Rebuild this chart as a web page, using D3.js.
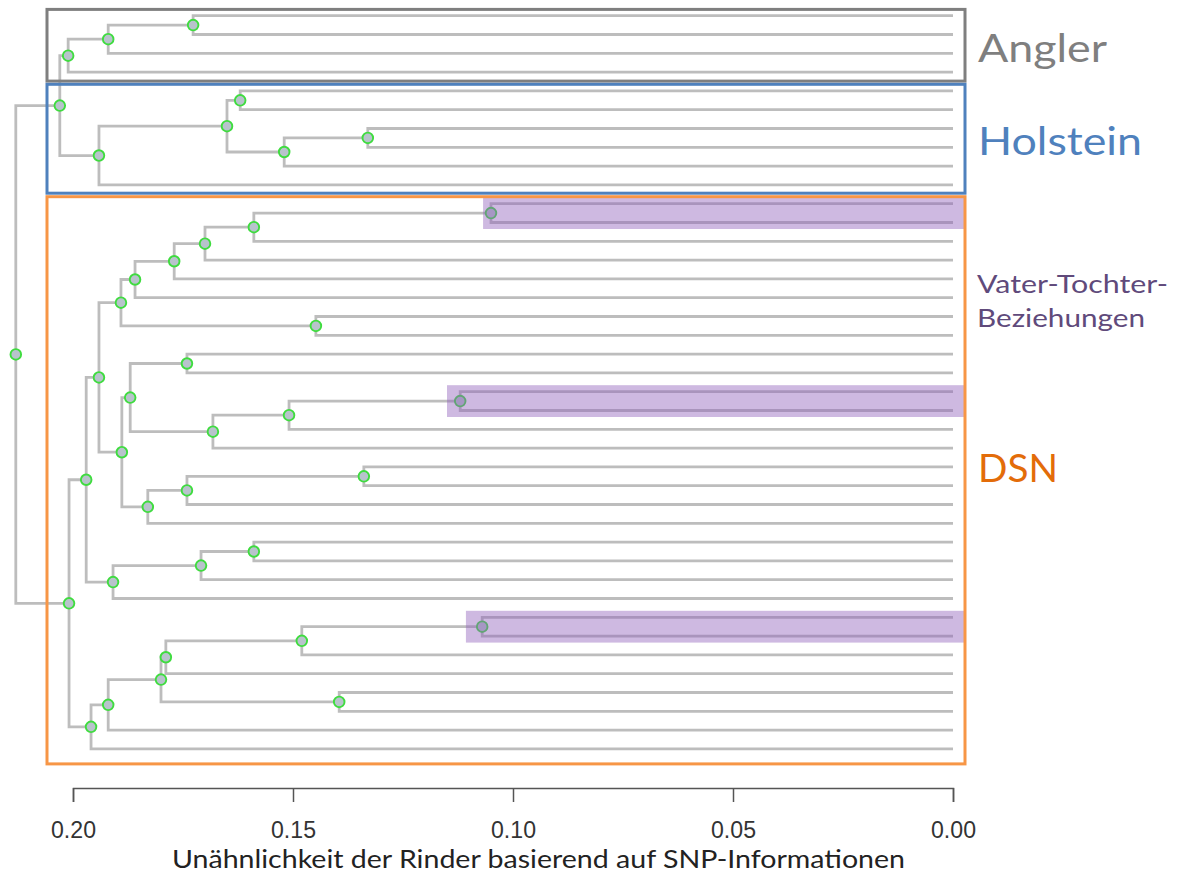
<!DOCTYPE html>
<html>
<head>
<meta charset="utf-8">
<script src="https://cdn.jsdelivr.net/npm/d3@7"></script>
<style>
  html, body { margin: 0; padding: 0; background: #ffffff; }
  svg { display: block; }
</style>
</head>
<body>
<svg id="chart" width="1178" height="876"></svg>
<script>
// ---------------- DATA ----------------
// Leaves in display order (top to bottom)
const leafIds = d3.range(1, 41).map(i => "R" + i);

// Agglomerative merges (hclust convention: negative = leaf number, positive = earlier merge)
const mergeLeft  = [-1, 1, 2, -5, -7, 5, 4, 7, 3,
                    -11, 10, 11, 12, 13, -17, 14, -19, -21, 18, 19, 17, -25, 22, 23, 21, 16,
                    -29, 27, 28, 26, -33, 31, 32, -37, 33, 35, 36, 30, 9];
const mergeRight = [-2, -3, -4, -6, -8, -9, 6, -10, 8,
                    -12, -13, -14, -15, -16, -18, 15, -20, -22, -23, -24, 20, -26, -27, -28, 24, 25,
                    -30, -31, -32, 29, -34, -35, -36, -38, 34, -39, -40, 37, 38];
const mergeHeight = [0.1727, 0.1920, 0.2011, 0.1620, 0.1330, 0.1520, 0.1650, 0.1941, 0.2030,
                     0.1050, 0.1589, 0.1700, 0.1770, 0.1859, 0.1448, 0.1891, 0.1741, 0.1120, 0.1509,
                     0.1682, 0.1870, 0.1339, 0.1741, 0.1830, 0.1889, 0.1941,
                     0.1589, 0.1709, 0.1909, 0.1970, 0.1070, 0.1480, 0.1789, 0.1395, 0.1800,
                     0.1920, 0.1959, 0.2009, 0.2130];

// Groups (leaf ranges, 1-based)
const groupNames = ["Angler", "Holstein", "DSN"];
const groupFirstLeaf = [1, 5, 11];
const groupLastLeaf = [4, 10, 40];

// Father-daughter pairs highlighted
const pairFirstLeaf = [11, 21, 33];
const pairLastLeaf = [12, 22, 34];
const pairLeftHeight = [0.1068, 0.1150, 0.1107];

const tickValues = [0.20, 0.15, 0.10, 0.05, 0.00];
const axisTitle = "Unähnlichkeit der Rinder basierend auf SNP-Informationen";
const pairLabel = ["Vater-Tochter-", "Beziehungen"];

// ---------------- BUILD TREE ----------------
const merges = mergeHeight.map((h, i) => ({ id: "M" + (i + 1), height: h }));
function resolve(k) {
  return k < 0 ? { id: leafIds[-k - 1], height: 0 } : merges[k - 1];
}
merges.forEach((m, i) => { m.children = [resolve(mergeLeft[i]), resolve(mergeRight[i])]; });
const root = d3.hierarchy(merges[merges.length - 1]);

// ---------------- SCALES ----------------
const x = d3.scaleLinear().domain([0.20, 0.00]).range([73, 953]);
const y = d3.scalePoint().domain(root.leaves().map(d => d.data.id)).range([15.7, 748.9]);

root.eachAfter(n => {
  if (!n.children) n.py = y(n.data.id);
  else n.py = d3.mean(n.children, c => c.py);
  n.px = x(n.data.height);
});

const svg = d3.select("#chart");
const boxLeft = 47, boxRight = 965;

// ---------------- TREE ----------------
const gTree = svg.append("g");
const lineColor = "#bdbdbd";
const internal = root.descendants().filter(n => n.children);

gTree.selectAll("path.link")
  .data(internal)
  .join("path")
  .attr("fill", "none")
  .attr("stroke", lineColor)
  .attr("stroke-width", 2.8)
  .attr("d", n => {
    const [a, b] = n.children;
    return `M${a.px},${a.py}H${n.px}V${b.py}H${b.px}`;
  });

gTree.selectAll("circle")
  .data(internal)
  .join("circle")
  .attr("cx", n => n.px)
  .attr("cy", n => n.py)
  .attr("r", 5.3)
  .attr("fill", "#b8c3cc")
  .attr("stroke", "#3fdc3f")
  .attr("stroke-width", 1.9);

// ---------------- HIGHLIGHT BANDS ----------------
svg.append("g").selectAll("rect")
  .data(pairFirstLeaf.map((f, i) => ({ f, l: pairLastLeaf[i], h: pairLeftHeight[i] })))
  .join("rect")
  .attr("x", d => x(d.h))
  .attr("y", d => y(leafIds[d.f - 1]) - 6.5)
  .attr("width", d => boxRight - x(d.h))
  .attr("height", d => y(leafIds[d.l - 1]) - y(leafIds[d.f - 1]) + 13)
  .attr("fill", "#8f5fbb")
  .attr("fill-opacity", 0.44);

// ---------------- GROUP BOXES ----------------
const groupStroke = ["#7f7f7f", "#4f81bd", "#f79646"];
const groupText = ["#7f7f7f", "#4f81bd", "#e36c09"];
const boxPadTop = [6.3, 6.6, 7.0];
const boxPadBottom = [9.0, 8.3, 15.0];
svg.append("g").selectAll("rect")
  .data(groupNames.map((g, i) => i))
  .join("rect")
  .attr("x", boxLeft)
  .attr("y", i => y(leafIds[groupFirstLeaf[i] - 1]) - boxPadTop[i])
  .attr("width", boxRight - boxLeft)
  .attr("height", i => y(leafIds[groupLastLeaf[i] - 1]) - y(leafIds[groupFirstLeaf[i] - 1]) + boxPadTop[i] + boxPadBottom[i])
  .attr("fill", "none")
  .attr("stroke", i => groupStroke[i])
  .attr("stroke-width", 3);

// ---------------- LABELS ----------------
const labelBaseline = [62, 155, 482];
const labelWidth = [129, 164, 80];
svg.append("g").selectAll("text")
  .data(groupNames.map((g, i) => i))
  .join("text")
  .attr("x", 978)
  .attr("y", i => labelBaseline[i])
  .attr("font-family", "Lato, 'Open Sans', sans-serif")
  .attr("font-size", 39)
  .attr("fill", i => groupText[i])
  .attr("textLength", i => labelWidth[i])
  .attr("lengthAdjust", "spacingAndGlyphs")
  .text(i => groupNames[i]);

const pairBaseline = [293, 327];
const pairWidth = [191, 168];
svg.append("g").selectAll("text")
  .data(pairLabel)
  .join("text")
  .attr("x", 977)
  .attr("y", (d, i) => pairBaseline[i])
  .attr("font-family", "Lato, 'Open Sans', sans-serif")
  .attr("font-size", 25)
  .attr("fill", "#604a7b")
  .attr("textLength", (d, i) => pairWidth[i])
  .attr("lengthAdjust", "spacingAndGlyphs")
  .text(d => d);

// ---------------- AXIS ----------------
const axis = d3.axisBottom(x)
  .tickValues(tickValues)
  .tickFormat(d3.format(".2f"))
  .tickSize(14)
  .tickPadding(20);

const gAxis = svg.append("g")
  .attr("transform", "translate(0,788)")
  .call(axis);
gAxis.select(".domain").attr("stroke", "#555").attr("stroke-width", 1.5);
gAxis.selectAll(".tick line").attr("stroke", "#555").attr("stroke-width", 1.5);
gAxis.selectAll(".tick text")
  .attr("font-family", "'Liberation Sans', Arial, sans-serif")
  .attr("font-size", 23)
  .attr("fill", "#333")
  .attr("textLength", 45)
  .attr("lengthAdjust", "spacingAndGlyphs");

svg.append("text")
  .attr("x", 172)
  .attr("y", 868)
  .attr("font-family", "Lato, 'Open Sans', sans-serif")
  .attr("font-size", 25)
  .attr("fill", "#222")
  .attr("textLength", 733)
  .attr("lengthAdjust", "spacingAndGlyphs")
  .text(axisTitle);
</script>
</body>
</html>
